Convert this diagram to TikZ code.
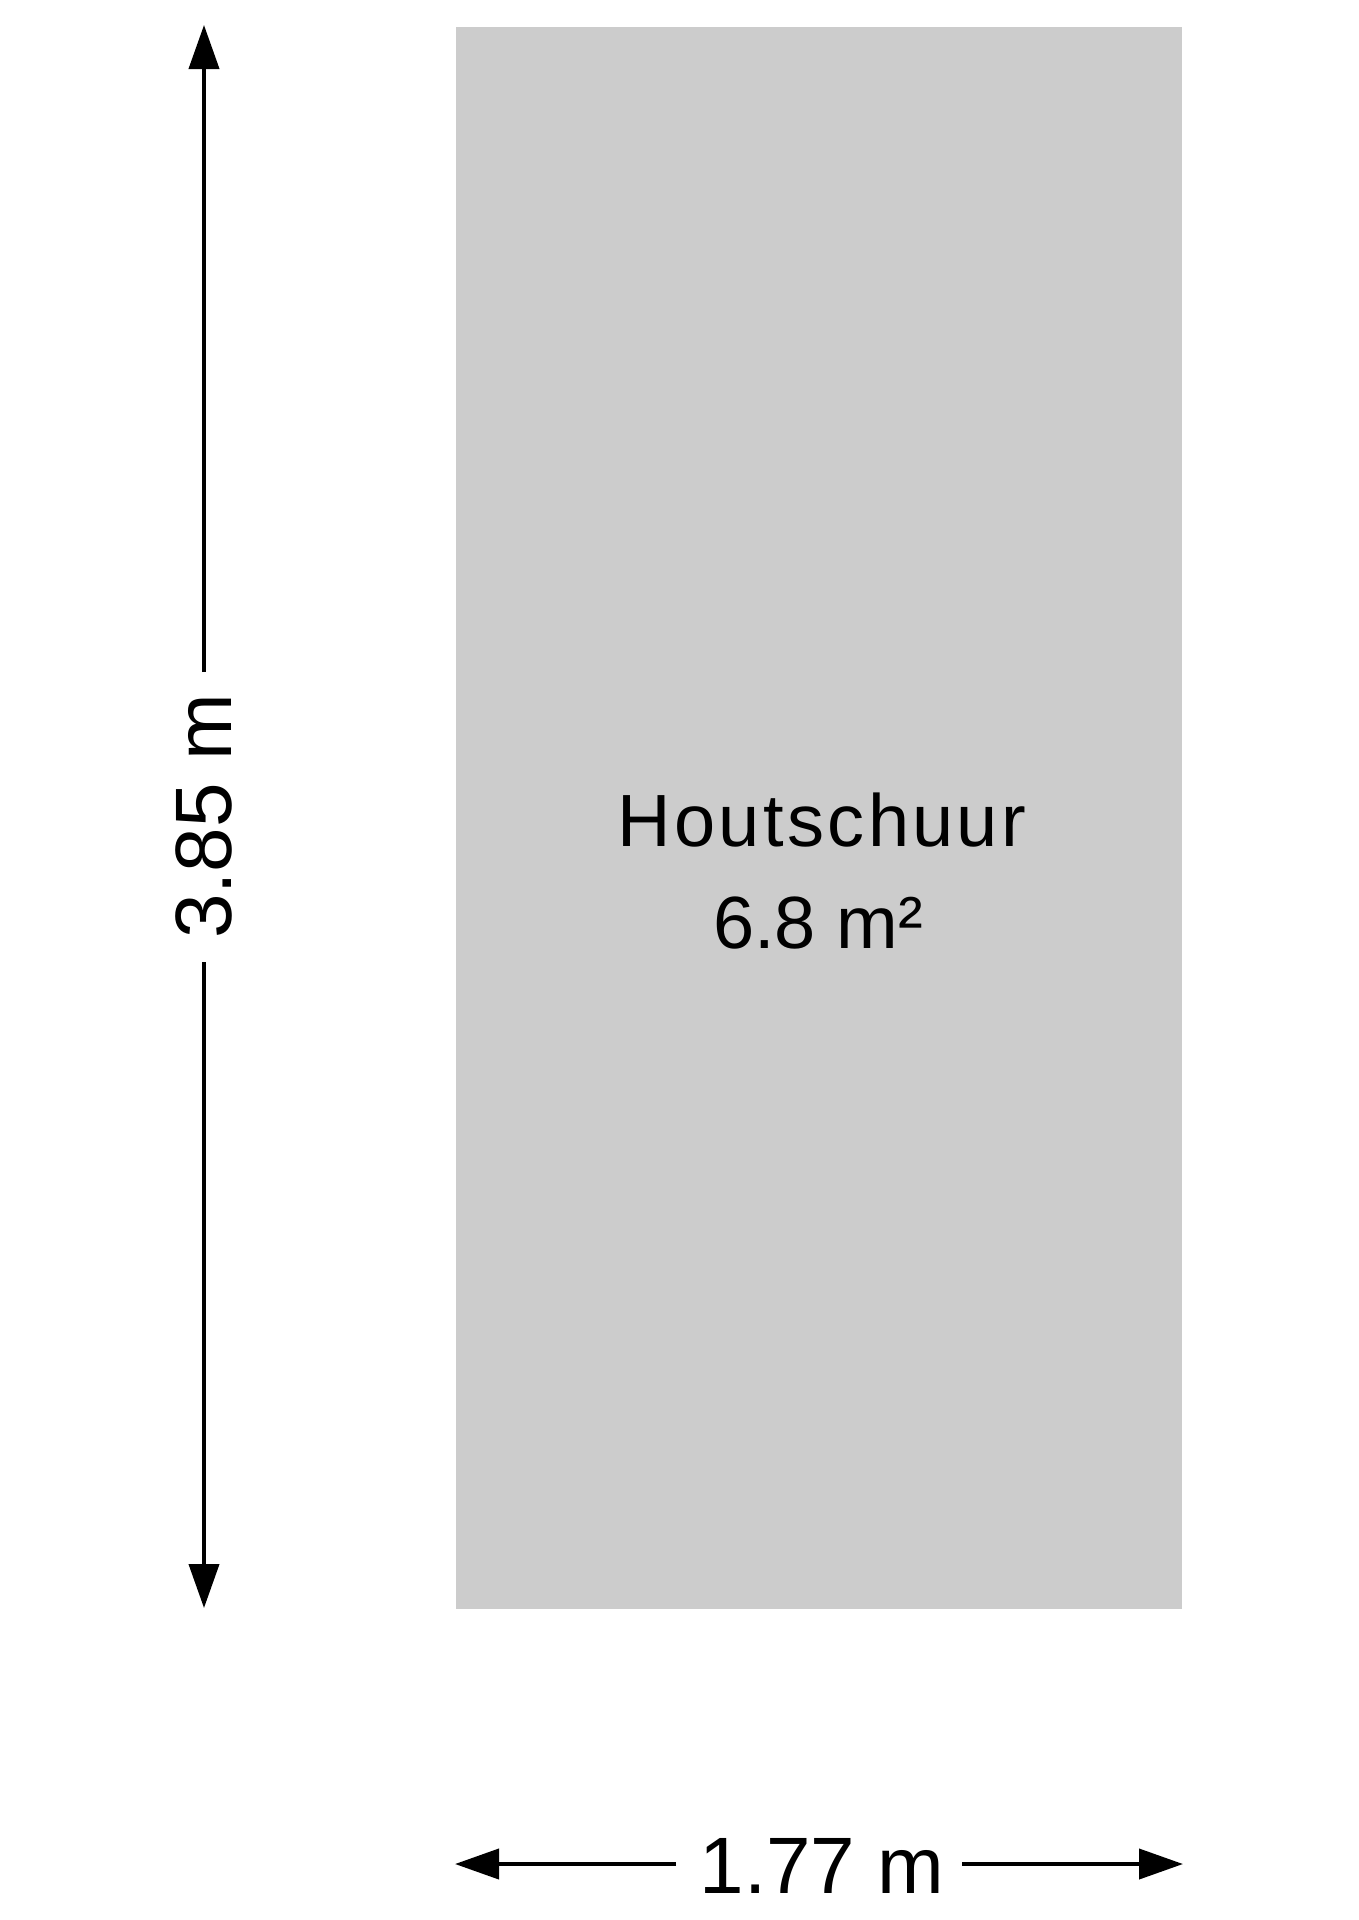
\documentclass[tikz,border=0pt]{standalone}
\usepackage{fontspec}
\setmainfont{Liberation Sans}
\newfontfamily\roomfont[LetterSpace=4.5]{Liberation Sans}
\usetikzlibrary{arrows.meta}
\definecolor{roomgray}{HTML}{CCCCCC}
\begin{document}
\begin{tikzpicture}[x=1pt,y=-1pt,
  dimline/.style={line width=4pt,-{Triangle[length=44pt,width=30pt]}},
  dimlabel/.style={inner sep=0pt,font=\fontsize{80}{96}\selectfont},
  roomlabel/.style={inner sep=0pt,anchor=base,font=\fontsize{74}{88}\selectfont}]
\useasboundingbox (0,0) rectangle (1358,1920);
% room
\fill[roomgray] (456,27) rectangle (1182,1609);
\node[roomlabel] (name) at (822,846) {\roomfont Houtschuur};
\node[roomlabel] (area) at (818,948) {6.8 m²};
% vertical dimension
\coordinate (vtop) at (204,25);
\coordinate (vbot) at (204,1608);
\node[dimlabel,rotate=90] (vlab) at (204,816.5) {3.85 m};
\coordinate (vgapT) at (204,672);
\coordinate (vgapB) at (204,962);
\draw[dimline] (vgapT) -- (vtop);
\draw[dimline] (vgapB) -- (vbot);
% horizontal dimension
\coordinate (hleft) at (455,1864);
\coordinate (hright) at (1183,1864);
\node[dimlabel] (hlab) at (822,1865.5) {1.77 m};
\coordinate (hgapL) at (676,1864);
\coordinate (hgapR) at (962,1864);
\draw[dimline] (hgapL) -- (hleft);
\draw[dimline] (hgapR) -- (hright);
\end{tikzpicture}
\end{document}
